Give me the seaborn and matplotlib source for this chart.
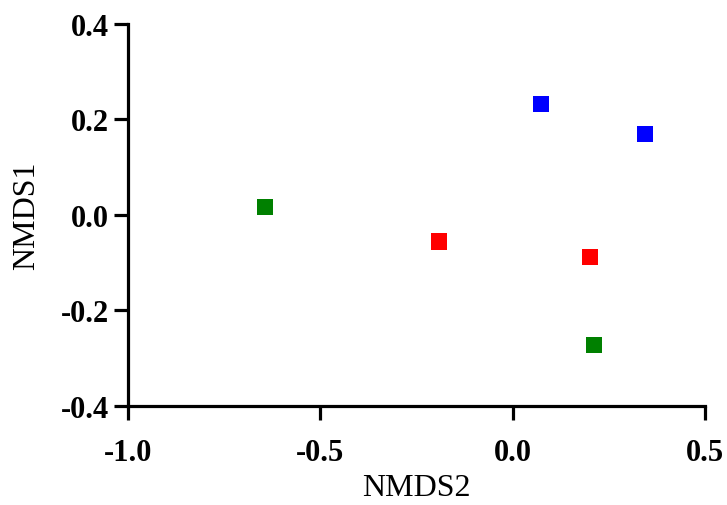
import matplotlib
matplotlib.use("Agg")
import matplotlib.pyplot as plt
import seaborn as sns
import pandas as pd

# NMDS coordinates
nmds2 = [0.074, 0.344, -0.644, 0.211, -0.192, 0.201]
nmds1 = [0.232, 0.170, 0.017, -0.272, -0.056, -0.089]
groups = ["A", "A", "B", "B", "C", "C"]
colors = {"A": "#0000FF", "B": "#008000", "C": "#FF0000"}

xticks = [-1.0, -0.5, 0.0, 0.5]
yticks = [-0.4, -0.2, 0.0, 0.2, 0.4]

data = pd.DataFrame({"NMDS2": nmds2, "NMDS1": nmds1, "group": groups})

sns.set_style("ticks")
plt.rcParams["font.family"] = ["Liberation Serif", "DejaVu Serif"]
plt.rcParams["text.color"] = "black"
plt.rcParams["axes.labelcolor"] = "black"
plt.rcParams["xtick.color"] = "black"
plt.rcParams["ytick.color"] = "black"

fig = plt.figure(figsize=(7.27, 5.06), dpi=100)
ax = fig.add_axes([0.176, 0.196, 0.794, 0.755])

sns.scatterplot(x="NMDS2", y="NMDS1", hue="group", palette=colors, data=data,
                marker="s", s=135, linewidth=0, legend=False, ax=ax, clip_on=False)

ax.set_xlim(-1.0, 0.5)
ax.set_ylim(-0.4, 0.4)
ax.set_xticks(xticks)
ax.set_yticks(yticks)
ax.set_xticklabels([f"{t:.1f}" for t in xticks], fontsize=22, fontweight="bold")
ax.set_yticklabels([f"{t:.1f}" for t in yticks], fontsize=22, fontweight="bold")
ax.set_xlabel("NMDS2", fontsize=23, labelpad=4.5)
ax.set_ylabel("NMDS1", fontsize=23, labelpad=14)

sns.despine(ax=ax)
for side in ["left", "bottom"]:
    ax.spines[side].set_linewidth(2.3)
    ax.spines[side].set_color("black")
ax.tick_params(axis="both", direction="out", length=10, width=2.3, color="black")
ax.tick_params(axis="x", pad=13)
ax.tick_params(axis="y", pad=3.5)

fig.savefig("out.png", dpi=100)
plt.close(fig)
